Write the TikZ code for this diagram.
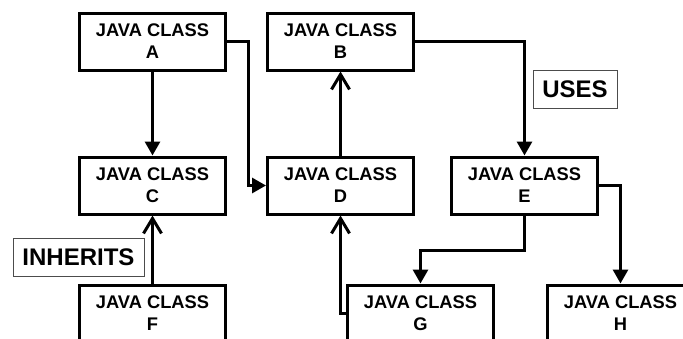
\documentclass[tikz,border=0pt]{standalone}
\usepackage{fontspec}
\setmainfont{Liberation Sans}
\usetikzlibrary{arrows.meta}

\tikzset{
  classbox/.style={draw, line width=3pt, minimum width=146pt, minimum height=57pt,
    inner sep=0pt, align=center, font=\bfseries\fontsize{18.3}{22}\selectfont},
  tagbox/.style={draw=black!70, line width=1pt, minimum width=#1, minimum height=38pt,
    inner sep=0pt, font=\bfseries\fontsize{24}{28}\selectfont},
  link/.style={line width=3pt},
  uses/.style={link, -{Triangle[length=14pt,width=15pt]}},
  inherits/.style={link, -{Straight Barb[length=15pt,width=18pt]}}
}

\begin{document}
\begin{tikzpicture}[x=1pt, y=-1pt]
  \clip (0,0) rectangle (683,338);
  \fill[white] (0,0) rectangle (683,338);

  % class boxes
  \node[classbox] (A) at (152.5,41.5)  {JAVA CLASS\\A};
  \node[classbox] (B) at (340.5,41.5) {JAVA CLASS\\B};
  \node[classbox] (C) at (152.5,185.5) {JAVA CLASS\\C};
  \node[classbox] (D) at (340.5,185.5) {JAVA CLASS\\D};
  \node[classbox] (E) at (524.5,185.5) {JAVA CLASS\\E};
  \node[classbox] (F) at (152.5,313.5) {JAVA CLASS\\F};
  \node[classbox] (G) at (420.5,313.5) {JAVA CLASS\\G};
  \node[classbox] (H) at (620.5,313.5) {JAVA CLASS\\H};

  % legend tags
  \node[tagbox=84pt]  (usesTag) at (575,89)      {USES};
  \node[tagbox=131pt] (inhTag)  at (78.5,257.5)  {INHERITS};

  % "uses" relations
  \draw[uses] (A.south) -- (C.north);
  \draw[uses] (A.east) -- ++(21,0) |- (D.west);
  \draw[uses] (B.east) -| (E.north);
  \draw[uses] (E.south) -- ++(0,35) -| (G.north);
  \draw[uses] (E.east) -| (H.north);

  % "inherits" relations
  \draw[inherits] (D.north) -- (B.south);
  \draw[inherits] (F.north) -- (C.south);
  \draw[inherits] (G.west) -| (D.south);
\end{tikzpicture}
\end{document}
